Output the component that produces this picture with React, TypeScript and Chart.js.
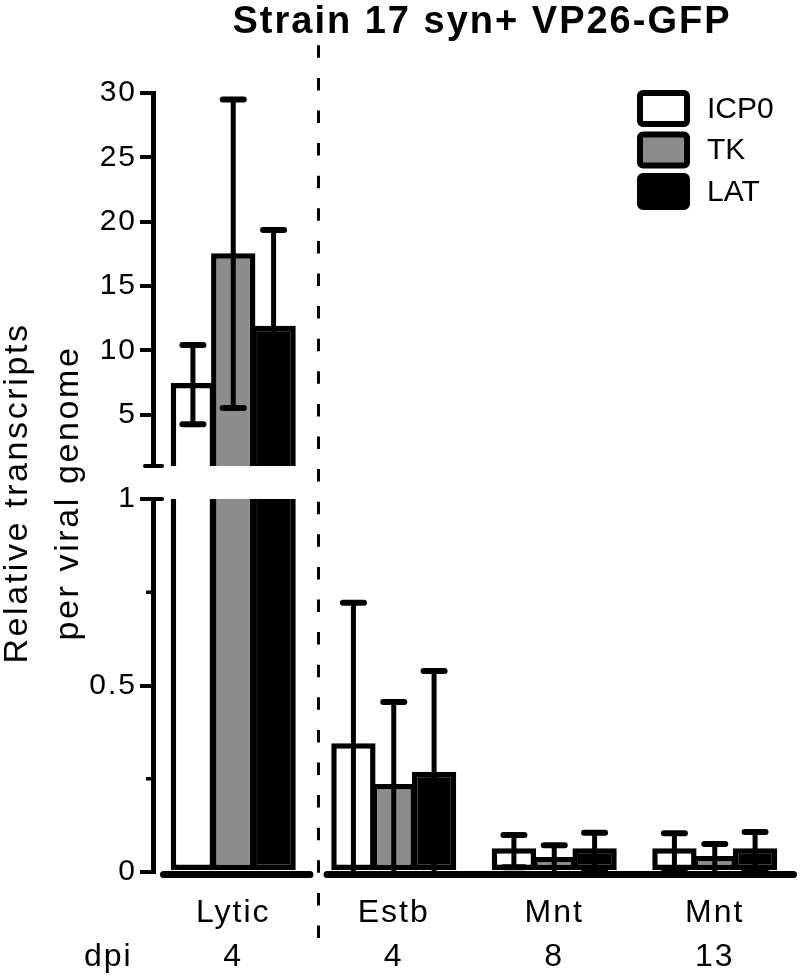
import React, { useEffect, useRef } from 'react';
import { Chart, registerables } from 'chart.js';

Chart.register(...registerables);

const FONT = "'Liberation Sans', Arial, Helvetica, sans-serif";

// ---- data ----
const chartTitle = 'Strain 17 syn+ VP26-GFP';
const yTitleLines = ['Relative transcripts', 'per viral genome'];
const categories = ['Lytic', 'Estb', 'Mnt', 'Mnt'];
const dpiLabel = 'dpi';
const dpiValues = ['4', '4', '8', '13'];
const seriesNames = ['ICP0', 'TK', 'LAT'];
const icp0Values = [7.45, 0.345, 0.064, 0.064];
const icp0ErrHigh = [10.4, 0.722, 0.099, 0.104];
const icp0ErrLow = [4.25, -0.04, 0.013, 0.008];
const tkValues = [17.55, 0.236, 0.04, 0.043];
const tkErrHigh = [29.5, 0.456, 0.072, 0.075];
const tkErrLow = [5.5, 0.0, -0.008, -0.005];
const latValues = [11.9, 0.269, 0.064, 0.064];
const latErrHigh = [19.35, 0.539, 0.105, 0.107];
const latErrLow = [4.0, -0.017, 0.007, 0.005];
const upperTicks = [5, 10, 15, 20, 25, 30];
const lowerTicks = [0, 0.5, 1];
const lowerMinorTicks = [0.25, 0.75];
const lowerRange = [0, 1];
const upperRange = [1, 30];
const seriesColors = ['#ffffff', '#8c8c8c', '#000000'];

export default function App() {
  const canvasRef = useRef<HTMLCanvasElement>(null);

  useEffect(() => {
    const canvas = canvasRef.current;
    if (!canvas) return;
    const seriesValues = [icp0Values, tkValues, latValues];
    const seriesHigh = [icp0ErrHigh, tkErrHigh, latErrHigh];
    const seriesLow = [icp0ErrLow, tkErrLow, latErrLow];
    const lowMax = lowerRange[1];
    const upMin = upperRange[0];

    const common = {
      borderColor: '#000000',
      borderWidth: 5.5,
      barPercentage: 1.099,
      categoryPercentage: 0.754,
      clip: 0,
    };

    const lowerSets = seriesNames.map((name, s) => ({
      ...common,
      label: name,
      data: seriesValues[s].map((v) => Math.min(v, lowMax)),
      yAxisID: 'yLow',
      stack: 'g' + s,
      backgroundColor: seriesColors[s],
      borderSkipped: (c: any) => (seriesValues[s][c.dataIndex] > lowMax ? 'top' : false),
    }));
    const upperSets = seriesNames.map((name, s) => ({
      ...common,
      label: name,
      data: seriesValues[s].map((v) => (v > upMin ? v : null)),
      yAxisID: 'yUp',
      stack: 'g' + s,
      base: upMin,
      backgroundColor: seriesColors[s],
      borderSkipped: 'bottom',
    }));

    const decor = {
      id: 'decor',
      beforeDraw(chart: any) {
        chart.ctx.letterSpacing = '2px';
      },
      afterDatasetsDraw(chart: any) {
        const ctx = chart.ctx;
        const yLow = chart.scales.yLow;
        const yUp = chart.scales.yUp;
        const x = chart.scales.x;
        const area = chart.chartArea;
        ctx.save();
        ctx.strokeStyle = '#000';
        // error bars
        for (let s = 0; s < seriesNames.length; s++) {
          const meta = chart.getDatasetMeta(s);
          for (let j = 0; j < categories.length; j++) {
            const bar = meta.data[j];
            if (!bar) continue;
            const cx = bar.x;
            const hiV = seriesHigh[s][j];
            const loV = seriesLow[s][j];
            const panels: any[] = [
              [yLow, lowerRange[0], lowerRange[1]],
              [yUp, upperRange[0], upperRange[1]],
            ];
            for (const [scale, lo, hi] of panels) {
              const a = Math.max(loV, lo);
              const b = Math.min(hiV, hi);
              if (b <= a) continue;
              const pa = scale.getPixelForValue(a);
              const pb = scale.getPixelForValue(b);
              ctx.lineWidth = 5;
              ctx.lineCap = 'butt';
              ctx.beginPath();
              ctx.moveTo(cx, pa);
              ctx.lineTo(cx, pb);
              ctx.stroke();
              ctx.lineCap = 'round';
              ctx.lineWidth = 6;
              if (hiV <= hi) {
                ctx.beginPath();
                ctx.moveTo(cx - 10.5, pb);
                ctx.lineTo(cx + 10.5, pb);
                ctx.stroke();
              }
              if (loV > lo) {
                ctx.beginPath();
                ctx.moveTo(cx - 10.5, pa);
                ctx.lineTo(cx + 10.5, pa);
                ctx.stroke();
              }
            }
          }
        }
        // x axis line, broken at the divider
        const dashX = (x.getPixelForValue(0) + x.getPixelForValue(1)) / 2 + 5;
        const axisY = yLow.getPixelForValue(0) + 2.5;
        ctx.lineWidth = 7;
        ctx.lineCap = 'round';
        ctx.beginPath();
        ctx.moveTo(area.left + 10.5, axisY);
        ctx.lineTo(dashX - 8.5, axisY);
        ctx.moveTo(dashX + 8.5, axisY);
        ctx.lineTo(area.right - 1.5, axisY);
        ctx.stroke();
        ctx.restore();
      },
      afterDraw(chart: any) {
        const ctx = chart.ctx;
        const yLow = chart.scales.yLow;
        const yUp = chart.scales.yUp;
        const x = chart.scales.x;
        const area = chart.chartArea;
        const axisX = area.left;
        ctx.save();
        ctx.strokeStyle = '#000';
        ctx.fillStyle = '#000';
        // dashed divider
        const dashX = (x.getPixelForValue(0) + x.getPixelForValue(1)) / 2 + 5;
        ctx.lineWidth = 3;
        ctx.setLineDash([12.5, 20.1]);
        ctx.beginPath();
        ctx.moveTo(dashX, x.top + 66);
        ctx.lineTo(dashX, 44);
        ctx.stroke();
        ctx.setLineDash([]);
        // minor ticks
        ctx.lineWidth = 3.5;
        ctx.lineCap = 'butt';
        for (const t of lowerMinorTicks) {
          const py = yLow.getPixelForValue(t);
          ctx.beginPath();
          ctx.moveTo(axisX - 7, py);
          ctx.lineTo(axisX, py);
          ctx.stroke();
        }
        // break marks
        ctx.lineWidth = 4;
        ctx.lineCap = 'round';
        for (const py of [yUp.getPixelForValue(upperRange[0]), yLow.getPixelForValue(lowerRange[1])]) {
          ctx.beginPath();
          ctx.moveTo(axisX - 8, py);
          ctx.lineTo(axisX + 9, py);
          ctx.stroke();
        }
        // title
        ctx.letterSpacing = '2px';
        ctx.font = `bold 38px ${FONT}`;
        ctx.textAlign = 'center';
        ctx.textBaseline = 'alphabetic';
        ctx.fillText(chartTitle, (area.left + area.right) / 2 + 8, 33);
        // y title
        ctx.letterSpacing = '2.6px';
        ctx.font = `34px ${FONT}`;
        const cy = 493;
        [27, 78].forEach((bx, i) => {
          ctx.save();
          ctx.translate(bx, cy);
          ctx.rotate(-Math.PI / 2);
          ctx.textAlign = 'center';
          ctx.textBaseline = 'alphabetic';
          ctx.fillText(yTitleLines[i], 0, 0);
          ctx.restore();
        });
        // dpi label
        ctx.letterSpacing = '2px';
        ctx.font = `32px ${FONT}`;
        ctx.textAlign = 'left';
        ctx.textBaseline = 'middle';
        ctx.fillText(dpiLabel, 84, x.top + 19 + 44 * 1.5);
        // legend
        ctx.letterSpacing = '0px';
        const lx = 637;
        const ly = 90;
        const bw = 53;
        const bh = 37;
        const step = 41.5;
        chart.data.datasets.slice(0, seriesNames.length).forEach((ds: any, i: number) => {
          const top = ly + i * step;
          ctx.beginPath();
          if (ctx.roundRect) ctx.roundRect(lx + 3, top + 3, bw - 6, bh - 6, 3);
          else ctx.rect(lx + 3, top + 3, bw - 6, bh - 6);
          ctx.fillStyle = ds.backgroundColor;
          ctx.fill();
          ctx.lineWidth = 6;
          ctx.strokeStyle = '#000';
          ctx.stroke();
          ctx.fillStyle = '#000';
          ctx.font = `30px ${FONT}`;
          ctx.textAlign = 'left';
          ctx.textBaseline = 'middle';
          ctx.fillText(ds.label, 707, top + bh / 2 + 1);
        });
        ctx.restore();
      },
    };

    const yCommon = {
      type: 'linear',
      position: 'left',
      stack: 'v',
      stacked: false,
      grid: { display: true, drawOnChartArea: false, drawTicks: true, tickLength: 13, lineWidth: 4, color: '#000' },
      border: { display: true, width: 5, color: '#000' },
      ticks: {
        color: '#000',
        padding: 3,
        font: { family: FONT, size: 30 },
        callback: (v: any) => String(v),
      },
      afterFit: (s: any) => {
        s.width = 153;
      },
    };

    const chart = new Chart(canvas, {
      type: 'bar',
      data: {
        labels: categories.map((c, i) => [c, dpiValues[i]]),
        datasets: [...lowerSets, ...upperSets] as any,
      },
      plugins: [decor],
      options: {
        animation: false,
        responsive: true,
        maintainAspectRatio: false,
        events: [],
        layout: { padding: { top: 93, right: 5, left: 0, bottom: 0 } },
        plugins: {
          legend: { display: false },
          title: { display: false },
          tooltip: { enabled: false },
        },
        scales: {
          x: {
            type: 'category',
            grid: { display: false, drawTicks: false },
            border: { display: false },
            ticks: {
              color: '#000',
              padding: 19,
              autoSkip: false,
              maxRotation: 0,
              font: { family: FONT, size: 32, lineHeight: 1.375 },
            },
            afterFit: (s: any) => {
              s.height = 106;
            },
          },
          yLow: {
            ...yCommon,
            min: lowerRange[0],
            max: lowerRange[1],
            stackWeight: 373,
            afterBuildTicks: (s: any) => {
              s.ticks = lowerTicks.map((v) => ({ value: v }));
            },
          },
          yGap: {
            type: 'linear',
            position: 'left',
            stack: 'v',
            stackWeight: 33,
            grid: { display: false, drawTicks: false },
            border: { display: false },
            ticks: { display: false },
            afterFit: (s: any) => {
              s.width = 153;
            },
          },
          yUp: {
            ...yCommon,
            min: upperRange[0],
            max: upperRange[1],
            stackWeight: 373,
            afterBuildTicks: (s: any) => {
              s.ticks = upperTicks.map((v) => ({ value: v }));
            },
          },
        } as any,
      },
    });
    return () => chart.destroy();
  }, []);

  return (
    <div style={{ position: 'fixed', left: 0, top: 0, width: 800, height: 978, background: '#fff' }}>
      <canvas ref={canvasRef} />
    </div>
  );
}
